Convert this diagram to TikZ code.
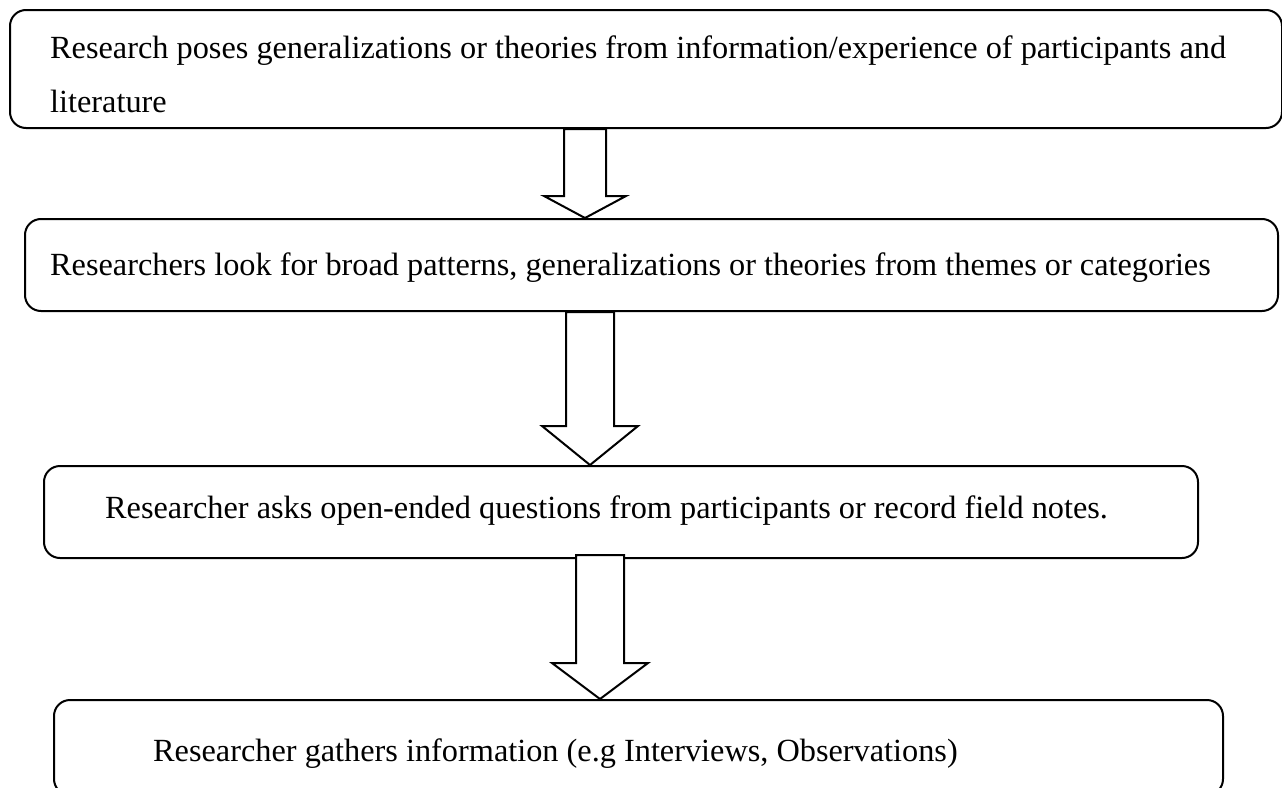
\documentclass[tikz,border=0pt]{standalone}
\usepackage{fontspec}
\setmainfont{Liberation Serif}
\usetikzlibrary{calc}
\tikzset{
  box/.style={draw, line width=2pt, rounded corners=16pt, inner sep=0pt, anchor=north west},
  lbl/.style={anchor=base west, inner sep=0pt, font=\fontsize{32.3}{54}\selectfont},
  blk/.style={draw, line width=2pt, fill=white, line join=miter}
}
% cx, half shaft width, half head width, top coordinate, head y, tip coordinate
\newcommand\blockarrow[6]{%
  \draw[blk] ({#1-#2},0 |- #4) -- ({#1-#2},#5) -- ({#1-#3},#5) -- (#1,0 |- #6)
    -- ({#1+#3},#5) -- ({#1+#2},#5) -- ({#1+#2},0 |- #4) -- cycle;}
\begin{document}
\begin{tikzpicture}[x=1pt,y=-1pt]
  \useasboundingbox (0,0) rectangle (1282,787);
  \clip (0,0) rectangle (1282,787);
  \node[box, minimum width=1272pt, minimum height=118pt] (b1) at (9,9) {};
  \node[box, minimum width=1253pt, minimum height=92pt] (b2) at (24,218) {};
  \node[box, minimum width=1154pt, minimum height=92pt] (b3) at (43,465) {};
  \node[box, minimum width=1169pt, minimum height=95pt] (b4) at (53,699) {};
  \node[lbl] (t1a) at (50,58) {Research poses generalizations or theories from information/experience of participants and};
  \node[lbl] (t1b) at (50,112) {literature};
  \node[lbl] (t2) at (50,275) {Researchers look for broad patterns, generalizations or theories from themes or categories};
  \node[lbl] (t3) at (105,518) {Researcher asks open-ended questions from participants or record field notes.};
  \node[lbl] (t4) at (153,761) {Researcher gathers information (e.g Interviews, Observations)};
  \coordinate (a3top) at ($(b3.south)+(0,-4)$);
  \blockarrow{585}{21}{41}{b1.south}{196}{b2.north}
  \blockarrow{590}{24}{48}{b2.south}{426}{b3.north}
  \blockarrow{600}{24}{48}{a3top}{663}{b4.north}
\end{tikzpicture}
\end{document}
